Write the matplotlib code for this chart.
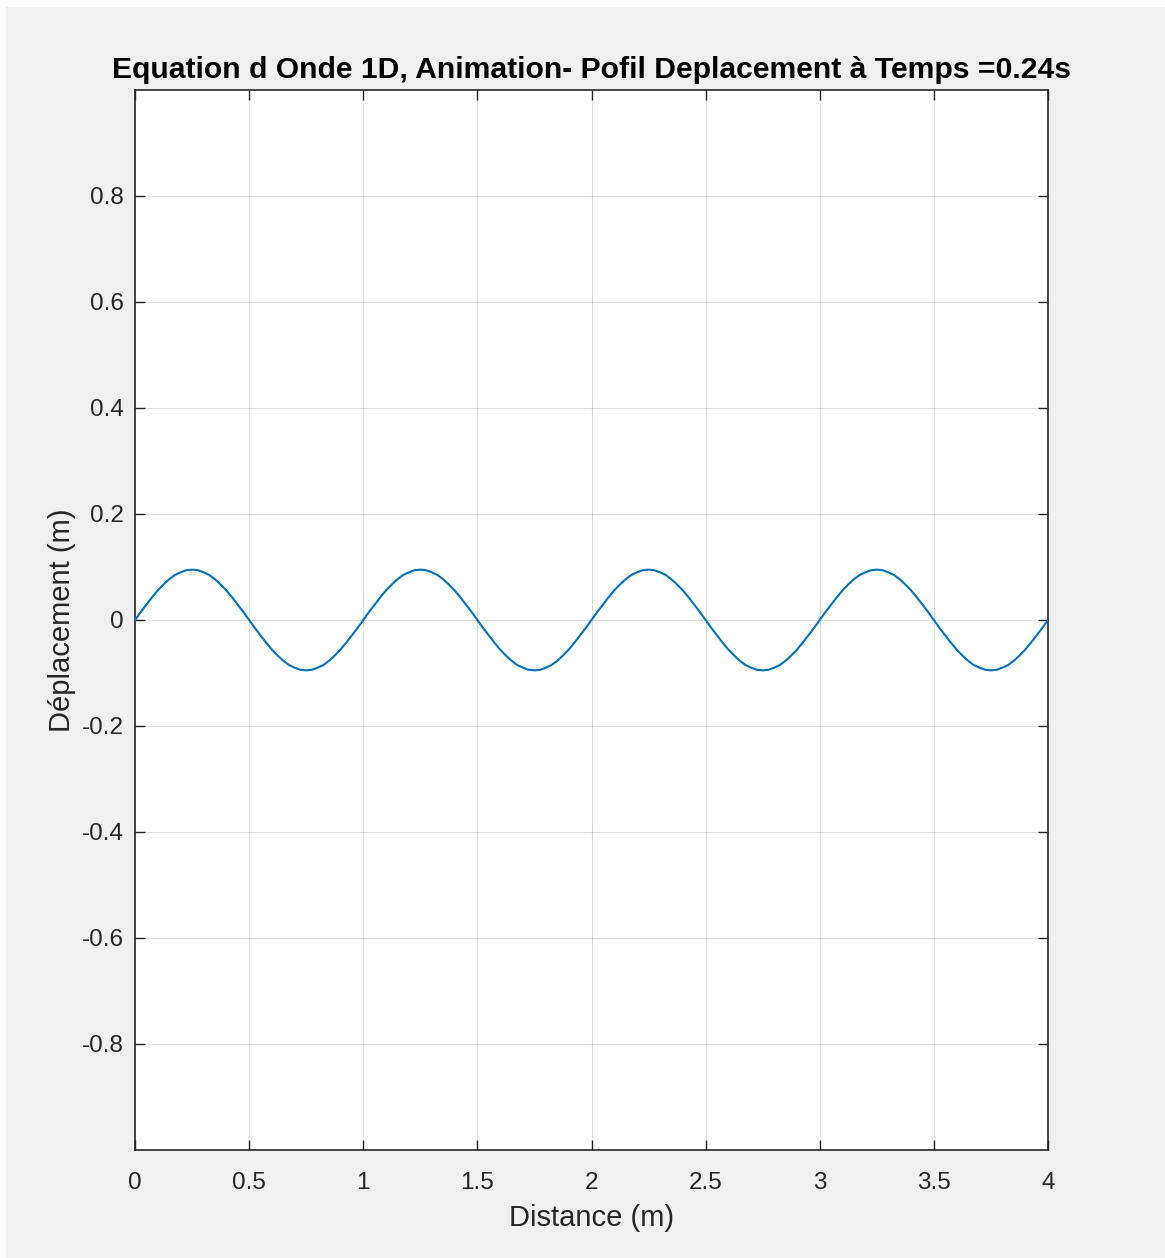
import matplotlib.pyplot as plt
import numpy as np
from matplotlib.patches import Rectangle

plt.rcParams["font.family"] = ["Liberation Sans", "DejaVu Sans"]

# displacement profile sampled every 0.025 m along the string
distance = np.round(np.arange(0, 161) * 0.025, 3)
displacement = [
    0.000, 0.015, 0.029, 0.043, 0.056, 0.067, 0.077, 0.085, 0.090, 0.094,
    0.095, 0.094, 0.090, 0.085, 0.077, 0.067, 0.056, 0.043, 0.029, 0.015,
    0.000, -0.015, -0.029, -0.043, -0.056, -0.067, -0.077, -0.085, -0.090, -0.094,
    -0.095, -0.094, -0.090, -0.085, -0.077, -0.067, -0.056, -0.043, -0.029, -0.015,
    0.000, 0.015, 0.029, 0.043, 0.056, 0.067, 0.077, 0.085, 0.090, 0.094,
    0.095, 0.094, 0.090, 0.085, 0.077, 0.067, 0.056, 0.043, 0.029, 0.015,
    0.000, -0.015, -0.029, -0.043, -0.056, -0.067, -0.077, -0.085, -0.090, -0.094,
    -0.095, -0.094, -0.090, -0.085, -0.077, -0.067, -0.056, -0.043, -0.029, -0.015,
    0.000, 0.015, 0.029, 0.043, 0.056, 0.067, 0.077, 0.085, 0.090, 0.094,
    0.095, 0.094, 0.090, 0.085, 0.077, 0.067, 0.056, 0.043, 0.029, 0.015,
    0.000, -0.015, -0.029, -0.043, -0.056, -0.067, -0.077, -0.085, -0.090, -0.094,
    -0.095, -0.094, -0.090, -0.085, -0.077, -0.067, -0.056, -0.043, -0.029, -0.015,
    0.000, 0.015, 0.029, 0.043, 0.056, 0.067, 0.077, 0.085, 0.090, 0.094,
    0.095, 0.094, 0.090, 0.085, 0.077, 0.067, 0.056, 0.043, 0.029, 0.015,
    0.000, -0.015, -0.029, -0.043, -0.056, -0.067, -0.077, -0.085, -0.090, -0.094,
    -0.095, -0.094, -0.090, -0.085, -0.077, -0.067, -0.056, -0.043, -0.029, -0.015,
    0.000,
]

x_ticks = [0, 0.5, 1, 1.5, 2, 2.5, 3, 3.5, 4]
x_labels = ["0", "0.5", "1", "1.5", "2", "2.5", "3", "3.5", "4"]
y_ticks = [-0.8, -0.6, -0.4, -0.2, 0, 0.2, 0.4, 0.6, 0.8]
y_labels = ["-0.8", "-0.6", "-0.4", "-0.2", "0", "0.2", "0.4", "0.6", "0.8"]

AX_COLOR = "#262626"
W, H = 1165, 1258

fig = plt.figure(figsize=(W / 100, H / 100), dpi=100, facecolor="white")
# grey figure window, leaving a thin white margin on the top and left
fig.patches.append(Rectangle((6 / W, -0.01), 1.0, 1.01 - 7 / H,
                             transform=fig.transFigure, facecolor="#F0F0F0",
                             edgecolor="none", zorder=-10))

ax = fig.add_axes([135 / W, (H - 1150) / H, 913 / W, 1060 / H])
ax.set_facecolor("white")

ax.plot(distance, displacement, color="#0072BD", linewidth=1.5, zorder=3)

ax.set_xlim(0, 4)
ax.set_ylim(-1, 1)
ax.set_xticks(x_ticks)
ax.set_xticklabels(x_labels)
ax.set_yticks(y_ticks)
ax.set_yticklabels(y_labels)

ax.grid(True, color="#262626", alpha=0.15, linewidth=0.8)
ax.set_axisbelow(True)
ax.tick_params(direction="in", length=7, width=1, colors=AX_COLOR,
               labelsize=17.5, top=True, right=True)
ax.tick_params(axis="x", pad=16)
ax.tick_params(axis="y", pad=8)
for side in ax.spines.values():
    side.set_color(AX_COLOR)
    side.set_linewidth(1.2)

ax.set_xlabel("Distance (m)", fontsize=21, color=AX_COLOR, labelpad=7)
ax.set_ylabel("Déplacement (m)", fontsize=21, color=AX_COLOR, labelpad=4)
ax.set_title("Equation d Onde 1D, Animation- Pofil Deplacement à Temps =0.24s",
             fontsize=21.7, fontweight="bold", color="black", pad=9)

fig.savefig("out.png", dpi=100, facecolor=fig.get_facecolor())
